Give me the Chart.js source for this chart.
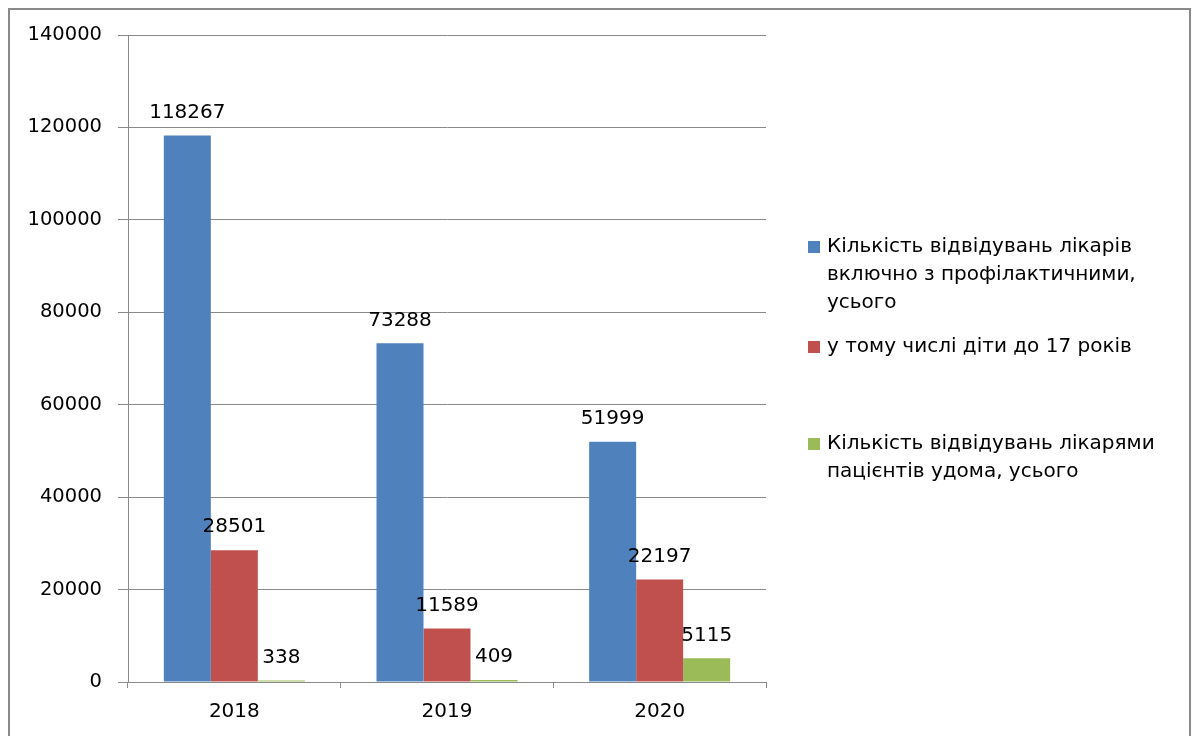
<!DOCTYPE html>
<html><head><meta charset="utf-8">
<script src="https://cdn.jsdelivr.net/npm/chart.js@4/dist/chart.umd.min.js"></script>
<style>html,body{margin:0;padding:0;background:#fff;}#wrap{width:1192px;height:736px;position:relative;}</style>
</head><body><div id="wrap"><canvas id="c" width="1192" height="736"></canvas></div>
<script>
const categories = ['2018', '2019', '2020'];
const visitsTotal = [118267, 73288, 51999];
const childrenUnder17 = [28501, 11589, 22197];
const homeVisits = [338, 409, 5115];
const seriesNames = [
  ['Кількість відвідувань лікарів', 'включно з профілактичними,', 'усього'],
  ['у тому числі діти до 17 років'],
  ['Кількість відвідувань лікарями', 'пацієнтів удома, усього']
];
const yTicks = [0, 20000, 40000, 60000, 80000, 100000, 120000, 140000];

const FONT = 'DejaVu Sans';
const colors = ['#4F81BD', '#C0504D', '#9BBB59'];

const extras = {
  id: 'extras',
  afterDraw(chart) {
    const ctx = chart.ctx;
    ctx.save();
    // value labels
    ctx.font = '20px "' + FONT + '"';
    ctx.fillStyle = '#000';
    ctx.textAlign = 'center';
    ctx.textBaseline = 'middle';
    chart.data.datasets.forEach((ds, i) => {
      chart.getDatasetMeta(i).data.forEach((bar, j) => {
        ctx.fillText(String(ds.data[j]), bar.x, bar.y - 23);
      });
    });
    // legend
    const legendTops = [247, 347, 444];
    ctx.textAlign = 'left';
    ctx.font = '20px "' + FONT + '"';
    chart.data.datasets.forEach((ds, i) => {
      const y0 = legendTops[i];
      ctx.fillStyle = ds.backgroundColor;
      ctx.fillRect(808, y0 - 6, 12, 12);
      ctx.fillStyle = '#000';
      seriesNames[i].forEach((line, k) => {
        ctx.fillText(line, 827, y0 + k * 28);
      });
    });
    // frame
    ctx.strokeStyle = '#8a8a8a';
    ctx.lineWidth = 2;
    ctx.strokeRect(9, 9, 1181, 740);
    ctx.restore();
  }
};

new Chart(document.getElementById('c'), {
  type: 'bar',
  data: {
    labels: categories,
    datasets: [
      { label: seriesNames[0].join(' '), data: visitsTotal, backgroundColor: colors[0] },
      { label: seriesNames[1].join(' '), data: childrenUnder17, backgroundColor: colors[1] },
      { label: seriesNames[2].join(' '), data: homeVisits, backgroundColor: colors[2] }
    ]
  },
  options: {
    responsive: false,
    animation: false,
    devicePixelRatio: 1,
    layout: { padding: { top: 35, right: 426, left: 0, bottom: 0 } },
    datasets: { bar: { barPercentage: 1, categoryPercentage: 0.663 } },
    plugins: { legend: { display: false }, tooltip: { enabled: false } },
    scales: {
      x: {
        afterFit(s) { s.height = 54; },
        grid: { offset: true, drawOnChartArea: false, drawTicks: true, tickLength: 6, color: '#8a8a8a' },
        border: { color: '#8a8a8a' },
        ticks: { color: '#000', font: { family: FONT, size: 20 }, padding: 12 }
      },
      y: {
        min: 0, max: 140000,
        afterFit(s) { s.width = 128; },
        afterBuildTicks(s) { s.ticks = yTicks.map(v => ({ value: v })); },
        grid: { color: '#8a8a8a', tickLength: 10 },
        border: { color: '#8a8a8a' },
        ticks: { color: '#000', font: { family: FONT, size: 19.5 }, padding: 16, callback: v => String(v) }
      }
    }
  },
  plugins: [extras]
});
</script>
</body></html>
